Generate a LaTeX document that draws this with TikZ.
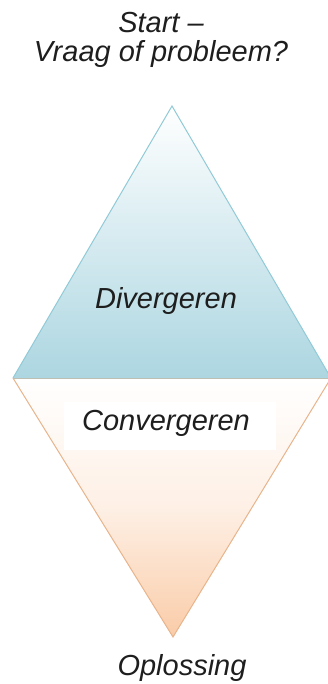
\documentclass[tikz,border=0pt]{standalone}
\usepackage{fontspec}
\setmainfont{Liberation Sans}
\definecolor{blueB}{RGB}{172,214,225}
\definecolor{blueE}{RGB}{145,202,215}
\definecolor{peachB}{RGB}{250,204,168}
\definecolor{peachM}{RGB}{253,232,214}
\definecolor{peachE}{RGB}{232,180,140}
\definecolor{txt}{RGB}{30,30,30}
\begin{document}
\begin{tikzpicture}[x=1pt,y=-1pt,
  lbl/.style={font=\fontsize{29}{31}\selectfont\itshape, text=txt, inner sep=0pt, align=center}]
\useasboundingbox (0,0) rectangle (328,684);
\clip (0,0) rectangle (328,684);
\coordinate (apex) at (172,106);
\coordinate (lv) at (13,378);
\coordinate (rv) at (331,378);
\coordinate (bot) at (173,637);
% top triangle
\path[top color=white, bottom color=blueB] (apex) -- (rv) -- (lv) -- cycle;
\draw[blueE, line width=1pt, line join=miter] (lv) -- (apex) -- (rv);
% bottom triangle
\path[top color=white, bottom color=peachB, middle color=peachB!30!white] (lv) -- (rv) -- (bot) -- cycle;
\draw[peachE, line width=1pt] (lv) -- (bot) -- (rv);
\draw[blueE!50!peachE, line width=0.8pt] (lv) -- (rv);
% white box behind Convergeren
\fill[white] (64,402) rectangle (276,450);
% texts
\node[lbl, anchor=base] (start) at (161,33) {Start --};
\node[lbl, anchor=base] (vraag) at (161,62) {Vraag of probleem?};
\node[lbl, anchor=base] (div) at (166,308) {Divergeren};
\node[lbl, anchor=base] (conv) at (166,430) {Convergeren};
\node[lbl, anchor=base] (opl) at (182,675) {Oplossing};
\end{tikzpicture}
\end{document}
